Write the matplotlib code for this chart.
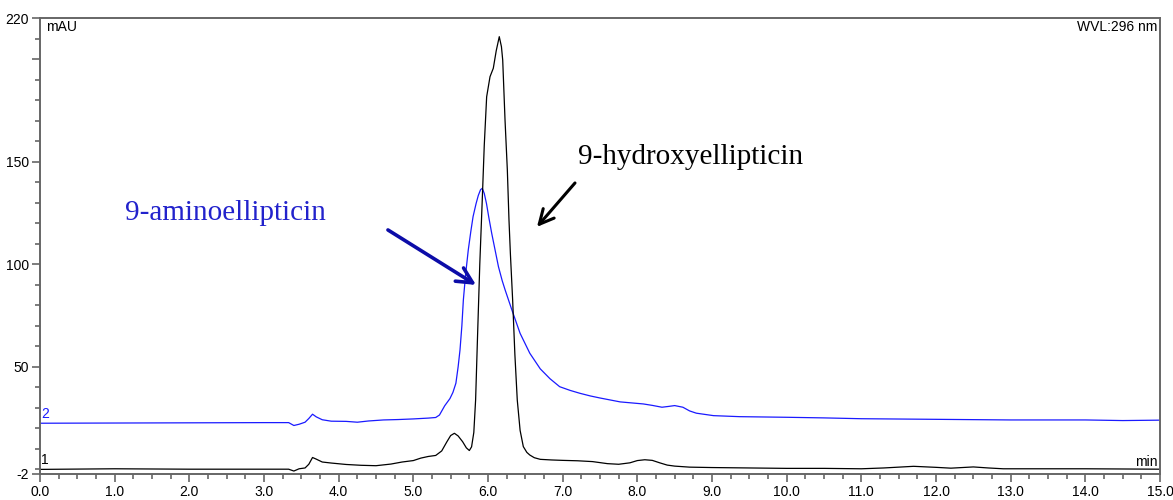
import matplotlib

matplotlib.use("Agg")
import matplotlib.pyplot as plt
import numpy as np

# retention time (min) / absorbance (mAU)
t_black = [0.0, 1.0, 2.0, 3.0, 3.33, 3.40, 3.47, 3.55, 3.60, 3.65, 3.70, 3.78,
           3.9, 4.1, 4.3, 4.5, 4.7, 4.85, 5.0, 5.1, 5.2, 5.3, 5.38, 5.45, 5.50,
           5.55, 5.60, 5.66, 5.71, 5.75, 5.78, 5.81, 5.834, 5.86, 5.89, 5.923,
           5.95, 5.982, 6.027, 6.071, 6.11, 6.151, 6.18, 6.197, 6.228, 6.259,
           6.281, 6.30, 6.33, 6.36, 6.392, 6.43, 6.473, 6.52, 6.56, 6.62, 6.70,
           6.85, 7.0, 7.2, 7.4, 7.6, 7.75, 7.9, 8.0, 8.1, 8.2, 8.3, 8.4, 8.5,
           8.7, 9.0, 9.5, 10.0, 10.5, 11.0, 11.3, 11.7, 12.0, 12.2, 12.5, 12.7,
           12.9, 13.5, 14.0, 14.5, 15.0]
v_black = [0.0, 0.3, 0.1, 0.1, 0.1, -0.8, 0.3, 0.7, 2.5, 5.8, 5.0, 3.6,
           3.1, 2.4, 2.0, 1.8, 2.6, 3.6, 4.3, 5.5, 6.3, 6.8, 9.0, 13.5, 16.5,
           17.6, 16.3, 13.5, 10.5, 9.2, 11.0, 18.0, 33.8, 65.0, 100.0, 131.3,
           158.0, 181.6, 191.4, 195.5, 204.0, 210.9, 206.0, 199.5, 170.3, 145.9,
           121.6, 105.0, 82.6, 56.0, 33.8, 19.0, 11.1, 8.3, 7.0, 5.7, 4.9,
           4.6, 4.4, 4.2, 3.8, 2.8, 2.5, 3.2, 4.3, 4.7, 4.4, 3.2, 2.1, 1.6,
           1.1, 0.9, 0.7, 0.5, 0.5, 0.3, 0.7, 1.5, 1.0, 0.6, 1.2, 0.7,
           0.3, 0.3, 0.3, 0.2, 0.1]

t_blue = [0.0, 1.0, 2.0, 3.0, 3.33, 3.40, 3.47, 3.55, 3.60, 3.65, 3.70, 3.78,
          3.9, 4.1, 4.25, 4.4, 4.6, 4.8, 5.0, 5.2, 5.3, 5.35, 5.42, 5.49, 5.53,
          5.57, 5.60, 5.625, 5.65, 5.67, 5.70, 5.736, 5.77, 5.80, 5.84, 5.87,
          5.90, 5.923, 5.95, 5.98, 6.01, 6.05, 6.10, 6.14, 6.19, 6.23, 6.32,
          6.43, 6.56, 6.70, 6.83, 6.96, 7.1, 7.23, 7.37, 7.50, 7.77, 8.08, 8.2,
          8.33, 8.42, 8.50, 8.61, 8.70, 8.79, 9.02, 9.37, 10.0, 10.5, 11.0,
          12.0, 13.0, 14.0, 14.5, 15.0]
v_blue = [22.5, 22.6, 22.7, 22.8, 22.8, 21.4, 22.0, 23.0, 24.8, 26.9, 25.6, 24.2,
          23.5, 23.4, 23.0, 23.6, 24.1, 24.3, 24.6, 25.0, 25.3, 26.5, 31.0, 34.5, 37.5,
          42.0, 50.0, 58.2, 70.0, 82.6, 95.0, 107.0, 116.0, 123.2, 129.5, 133.5,
          136.3, 137.0, 134.5, 129.5, 123.0, 115.0, 106.0, 98.8, 92.0, 87.4, 77.7,
          66.3, 56.6, 49.0, 44.2, 40.3, 38.5, 37.1, 35.8, 34.8, 32.9, 31.9, 31.2,
          30.3, 30.7, 31.1, 30.3, 28.5, 27.4, 26.2, 25.7, 25.4, 25.1, 24.7,
          24.4, 24.1, 24.1, 23.8, 24.0]

x_major = np.arange(0, 16, 1.0)
x_labels = [f"{x:.1f}" for x in x_major]
y_major = [-2, 50, 100, 150, 200, 220]
y_labels = ["-2", "50", "100", "150", "", "220"]

label_font = "Liberation Sans"
note_font = "Liberation Serif"
spine_col = "#666666"

fig = plt.figure(figsize=(11.73, 5.0), dpi=100)
ax = fig.add_axes([40 / 1173, 26.5 / 500, 1120 / 1173, 455.5 / 500])

ax.plot(t_blue, v_blue, color="#1a1aff", lw=0.9)
ax.plot(t_black, v_black, color="black", lw=0.9)

ax.set_xlim(0, 15)
ax.set_ylim(-2, 220)

ax.set_xticks(x_major)
ax.set_xticklabels(x_labels, fontfamily=label_font, fontsize=10)
ax.set_xticks(np.arange(0, 15.01, 0.25), minor=True)
ax.set_yticks(y_major)
ax.set_yticklabels(y_labels, fontfamily=label_font, fontsize=10)
ax.set_yticks(np.arange(0, 220, 10), minor=True)
ax.tick_params(axis="both", which="major", length=6, width=1.2, color=spine_col, pad=2)
ax.tick_params(axis="both", which="minor", length=3.5, width=1.2, color=spine_col)
for s in ax.spines.values():
    s.set_color(spine_col)
    s.set_linewidth(1.4)

# header / corner texts
ax.text(0.005, 0.995, "mAU", transform=ax.transAxes, ha="left", va="top",
        fontfamily=label_font, fontsize=10)
ax.text(0.998, 0.995, "WVL:296 nm", transform=ax.transAxes, ha="right", va="top",
        fontfamily=label_font, fontsize=10)
ax.text(0.998, 0.01, "min", transform=ax.transAxes, ha="right", va="bottom",
        fontfamily=label_font, fontsize=10)
ax.text(0.02, v_blue[0] + 1, "2", color="#1a1aff", ha="left", va="bottom",
        fontfamily=label_font, fontsize=10)
ax.text(0.02, v_black[0] + 1, "1", color="black", ha="left", va="bottom",
        fontfamily=label_font, fontsize=10)

# compound annotations
ax.text(1.14, 125, "9-aminoellipticin", color="#2222cc", fontfamily=note_font,
        fontsize=21, ha="left", va="center")
ax.annotate("", xy=(5.84, 89.9), xytext=(4.66, 116.7),
            arrowprops=dict(arrowstyle="->", color="#0c0ca8", lw=2.6,
                            mutation_scale=28, shrinkA=0, shrinkB=0))
ax.text(7.205, 152.3, "9-hydroxyellipticin", color="black", fontfamily=note_font,
        fontsize=21, ha="left", va="center")
ax.annotate("", xy=(6.656, 118.2), xytext=(7.165, 139.6),
            arrowprops=dict(arrowstyle="->", color="black", lw=2.2,
                            mutation_scale=26, shrinkA=0, shrinkB=0))

fig.savefig("out.png", dpi=100)
